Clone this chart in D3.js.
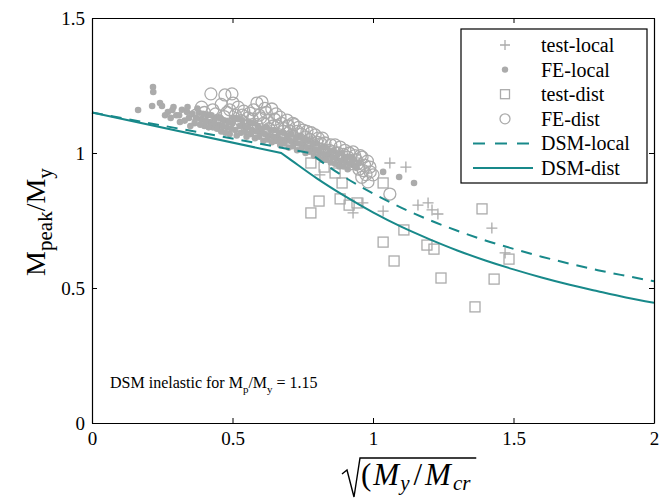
<!DOCTYPE html>
<html>
<head>
<meta charset="utf-8">
<script src="https://cdn.jsdelivr.net/npm/d3@7"></script>
<style>
  body { margin: 0; background: #fff; }
  svg text { font-family: "Liberation Serif", "Times New Roman", "DejaVu Serif", serif; }
</style>
</head>
<body>
<svg id="chart" width="668" height="500"></svg>
<script>
// values: x = sqrt(My/Mcr), y = Mpeak/My
const xTicks = [0, 0.5, 1, 1.5, 2];
const yTicks = [0, 0.5, 1, 1.5];

const testLocal = [
  [0.811, 0.919], [0.929, 0.778], [0.964, 0.815], [1.036, 0.785], [1.060, 0.963],
  [1.117, 0.948], [1.160, 0.807], [1.196, 0.815], [1.210, 0.789], [1.231, 0.774],
  [1.423, 0.722], [1.470, 0.630]
];

const feLocal = [
  [0.164, 1.159], [0.214, 1.174], [0.217, 1.244], [0.218, 1.226], [0.242, 1.185],
  [0.249, 1.174], [0.270, 1.152], [0.286, 1.159], [0.300, 1.140], [0.313, 1.115],
  [0.320, 1.160], [0.338, 1.152], [0.345, 1.130], [0.357, 1.145], [0.365, 1.110],
  [0.380, 1.150], [0.390, 1.125], [0.400, 1.100], [0.410, 1.140], [0.420, 1.115],
  [0.430, 1.095], [0.440, 1.130], [0.450, 1.105], [0.460, 1.080], [0.470, 1.120],
  [0.480, 1.095], [0.490, 1.070], [0.500, 1.110], [0.510, 1.085], [0.520, 1.125],
  [0.530, 1.075], [0.540, 1.100], [0.550, 1.060], [0.560, 1.115], [0.570, 1.085],
  [0.580, 1.055], [0.590, 1.100], [0.600, 1.075], [0.610, 1.045], [0.620, 1.095],
  [0.630, 1.065], [0.640, 1.040], [0.650, 1.085], [0.660, 1.060], [0.670, 1.030],
  [0.680, 1.075], [0.690, 1.050], [0.700, 1.020], [0.710, 1.070], [0.720, 1.040],
  [0.730, 1.010], [0.740, 1.060], [0.750, 1.030], [0.760, 1.000], [0.770, 1.045],
  [0.780, 1.020], [0.790, 0.990], [0.800, 1.035], [0.810, 1.005], [0.820, 0.975],
  [0.830, 1.020], [0.840, 0.995], [0.850, 0.965], [0.860, 1.010], [0.870, 0.980],
  [0.880, 0.950], [0.890, 1.000], [0.900, 0.970], [0.910, 0.940], [0.920, 0.985],
  [0.930, 0.955], [0.950, 0.965], [1.036, 0.930], [1.093, 0.911], [1.146, 0.889],
  [0.260, 1.140], [0.280, 1.130], [0.290, 1.170], [0.310, 1.140], [0.330, 1.120],
  [0.340, 1.170], [0.350, 1.100], [0.370, 1.130], [0.375, 1.165], [0.385, 1.105],
  [0.395, 1.145], [0.405, 1.120], [0.415, 1.095], [0.425, 1.140], [0.435, 1.110],
  [0.445, 1.090], [0.455, 1.130], [0.465, 1.100], [0.475, 1.075], [0.485, 1.115],
  [0.495, 1.090], [0.505, 1.130], [0.515, 1.065], [0.525, 1.100], [0.535, 1.120],
  [0.545, 1.080], [0.555, 1.095], [0.565, 1.070], [0.575, 1.110], [0.585, 1.080],
  [0.595, 1.060], [0.605, 1.090], [0.615, 1.070], [0.625, 1.050], [0.635, 1.085],
  [0.645, 1.060], [0.655, 1.045], [0.665, 1.075], [0.675, 1.050], [0.685, 1.035],
  [0.695, 1.065], [0.705, 1.045], [0.715, 1.025], [0.725, 1.055], [0.735, 1.035],
  [0.745, 1.015], [0.755, 1.050], [0.765, 1.020], [0.775, 1.005], [0.785, 1.035],
  [0.795, 1.010], [0.805, 0.985], [0.815, 1.020], [0.825, 0.995], [0.835, 0.975],
  [0.845, 1.005], [0.855, 0.985], [0.865, 0.960], [0.875, 0.995], [0.885, 0.970],
  [0.895, 0.950], [0.905, 0.985], [0.915, 0.960], [0.925, 0.970], [0.940, 0.945]
];

const testDist = [
  [0.779, 0.778], [0.808, 0.822], [0.883, 0.830], [0.915, 0.807], [0.943, 0.815],
  [0.890, 0.889], [1.036, 0.889], [0.826, 0.948], [1.110, 0.715], [1.036, 0.670],
  [1.075, 0.600], [1.192, 0.659], [1.217, 0.644], [1.242, 0.537], [1.388, 0.793],
  [1.431, 0.533], [1.363, 0.430], [1.484, 0.607], [0.779, 0.963], [0.865, 0.926]
];

const feDist = [
  [0.370, 1.140], [0.390, 1.170], [0.410, 1.130], [0.423, 1.219], [0.430, 1.160],
  [0.450, 1.120], [0.460, 1.180], [0.473, 1.215], [0.480, 1.150], [0.498, 1.219],
  [0.502, 1.185], [0.510, 1.140], [0.520, 1.170], [0.530, 1.120], [0.540, 1.155],
  [0.550, 1.100], [0.562, 1.148], [0.570, 1.125], [0.587, 1.185], [0.595, 1.140],
  [0.605, 1.189], [0.610, 1.110], [0.620, 1.150], [0.630, 1.090], [0.640, 1.163],
  [0.650, 1.125], [0.660, 1.100], [0.669, 1.133], [0.680, 1.080], [0.694, 1.122],
  [0.700, 1.100], [0.710, 1.065], [0.720, 1.105], [0.730, 1.080], [0.740, 1.050],
  [0.751, 1.085], [0.760, 1.060], [0.770, 1.035], [0.780, 1.075], [0.794, 1.067],
  [0.800, 1.040], [0.810, 1.015], [0.820, 1.055], [0.829, 1.037], [0.845, 1.010],
  [0.855, 0.990], [0.865, 1.030], [0.875, 1.000], [0.883, 1.022], [0.890, 0.975],
  [0.900, 1.010], [0.910, 0.985], [0.920, 0.960], [0.929, 1.004], [0.940, 0.975],
  [0.950, 0.940], [0.961, 0.985], [0.970, 0.955], [0.975, 0.920], [0.989, 0.948],
  [1.000, 0.919], [0.982, 0.893], [0.960, 0.910], [1.060, 0.848],
  [0.400, 1.150], [0.440, 1.145], [0.470, 1.135], [0.490, 1.160], [0.515, 1.115],
  [0.535, 1.140], [0.555, 1.130], [0.575, 1.160], [0.585, 1.105], [0.600, 1.130],
  [0.615, 1.165], [0.625, 1.120], [0.645, 1.100], [0.655, 1.145], [0.675, 1.110],
  [0.685, 1.090], [0.705, 1.080], [0.715, 1.110], [0.735, 1.095], [0.745, 1.070],
  [0.765, 1.080], [0.775, 1.050], [0.785, 1.030], [0.805, 1.055], [0.815, 1.035],
  [0.825, 1.010], [0.850, 1.030], [0.860, 1.005], [0.870, 0.980], [0.895, 0.995],
  [0.905, 0.965], [0.915, 1.000], [0.935, 0.990], [0.945, 0.960], [0.955, 0.990],
  [0.965, 0.935], [0.980, 0.970], [0.990, 0.930]
];

// DSM design curves (first point pair is the straight inelastic part)
const dsmLocal = [
  [0, 1.15], [0.776, 1.0], [0.8, 0.981], [0.9, 0.910], [1.0, 0.850], [1.1, 0.798],
  [1.2, 0.752], [1.3, 0.712], [1.4, 0.676], [1.5, 0.645], [1.6, 0.616], [1.7, 0.590],
  [1.8, 0.566], [1.9, 0.545], [2.0, 0.525]
];

const dsmDist = [
  [0, 1.15], [0.673, 1.0], [0.7, 0.980], [0.8, 0.906], [0.9, 0.840], [1.0, 0.780],
  [1.1, 0.727], [1.2, 0.681], [1.3, 0.639], [1.4, 0.602], [1.5, 0.569], [1.6, 0.539],
  [1.7, 0.512], [1.8, 0.488], [1.9, 0.465], [2.0, 0.445]
];

const grey = "#ababab";
const teal = "#18898a";
const serif = "Liberation Serif, Times New Roman, serif";

const margin = {top: 18, right: 14, bottom: 77, left: 92};
const w = 668, h = 500;

const svg = d3.select("#chart");

const xScale = d3.scaleLinear().domain([0, 2]).range([margin.left, w - margin.right]);
const yScale = d3.scaleLinear().domain([0, 1.5]).range([h - margin.bottom, margin.top]);

// markers
const plot = svg.append("g");

plot.selectAll(".fed")
  .data(feDist)
  .enter()
  .append("circle")
  .attr("cx", d => xScale(d[0]))
  .attr("cy", d => yScale(d[1]))
  .attr("r", 6)
  .attr("fill", "none")
  .attr("stroke", grey)
  .attr("stroke-width", 1.3);

plot.selectAll(".fel")
  .data(feLocal)
  .enter()
  .append("circle")
  .attr("cx", d => xScale(d[0]))
  .attr("cy", d => yScale(d[1]))
  .attr("r", 3.3)
  .attr("fill", grey);

plot.selectAll(".td")
  .data(testDist)
  .enter()
  .append("rect")
  .attr("x", d => xScale(d[0]) - 5)
  .attr("y", d => yScale(d[1]) - 5)
  .attr("width", 10)
  .attr("height", 10)
  .attr("fill", "none")
  .attr("stroke", grey)
  .attr("stroke-width", 1.3);

plot.selectAll(".tl")
  .data(testLocal)
  .enter()
  .append("path")
  .attr("d", d => {
    const cx = xScale(d[0]), cy = yScale(d[1]);
    return `M${cx - 5.5},${cy}H${cx + 5.5}M${cx},${cy - 5.5}V${cy + 5.5}`;
  })
  .attr("stroke", grey)
  .attr("stroke-width", 1.3);

// DSM curves: straight part up to the kink, smooth part after it
const lineStraight = d3.line().x(d => xScale(d[0])).y(d => yScale(d[1]));
const lineSmooth = d3.line().x(d => xScale(d[0])).y(d => yScale(d[1])).curve(d3.curveMonotoneX);
const curvePath = pts => lineStraight(pts.slice(0, 2)) + lineSmooth(pts.slice(1)).replace(/^M[^LC]*/, "");

svg.append("path")
  .attr("d", curvePath(dsmLocal))
  .attr("fill", "none")
  .attr("stroke", teal)
  .attr("stroke-width", 2)
  .attr("stroke-dasharray", "11,8");

svg.append("path")
  .attr("d", curvePath(dsmDist))
  .attr("fill", "none")
  .attr("stroke", teal)
  .attr("stroke-width", 2);

// axes (box with inward ticks)
const fmt = d3.format("~g");

const xAxis = d3.axisBottom(xScale).tickValues(xTicks).tickFormat(fmt)
  .tickSizeInner(-5).tickSizeOuter(0).tickPadding(6);
const yAxis = d3.axisLeft(yScale).tickValues(yTicks).tickFormat(fmt)
  .tickSizeInner(-5).tickSizeOuter(0).tickPadding(7);

const gx = svg.append("g")
  .attr("transform", "translate(0," + (h - margin.bottom) + ")")
  .call(xAxis);
const gy = svg.append("g")
  .attr("transform", "translate(" + margin.left + ",0)")
  .call(yAxis);

svg.append("g")
  .attr("transform", "translate(0," + margin.top + ")")
  .call(d3.axisTop(xScale).tickValues(xTicks).tickFormat("").tickSizeInner(-5).tickSizeOuter(0));
svg.append("g")
  .attr("transform", "translate(" + (w - margin.right) + ",0)")
  .call(d3.axisRight(yScale).tickValues(yTicks).tickFormat("").tickSizeInner(-5).tickSizeOuter(0));

svg.selectAll("g").attr("font-family", serif);
svg.selectAll(".domain").attr("stroke", "#000").attr("stroke-width", 1.2);
svg.selectAll(".tick line").attr("stroke", "#000");
svg.selectAll(".tick text")
  .style("font-family", serif)
  .attr("font-size", 19)
  .attr("fill", "#000");
gx.selectAll(".tick text").attr("dy", "0.85em");

// y label
const ylab = svg.append("text")
  .attr("transform", "translate(45,222) rotate(-90)")
  .attr("text-anchor", "middle")
  .attr("font-size", 28)
  .attr("fill", "#000");
ylab.append("tspan").text("M");
ylab.append("tspan").attr("font-size", 21).attr("dy", 7).text("peak");
ylab.append("tspan").attr("dy", -7).text("/M");
ylab.append("tspan").attr("font-size", 21).attr("dy", 7).text("y");

// x label: square root sign + (My/Mcr
const xlab = svg.append("text")
  .attr("x", 361)
  .attr("y", 485)
  .attr("font-size", 31)
  .attr("fill", "#000");
xlab.append("tspan").text("(");
xlab.append("tspan").attr("dx", 2).attr("font-style", "italic").text("M");
xlab.append("tspan").attr("dx", 1).attr("font-style", "italic").attr("font-size", 21).attr("dy", 5).text("y");
xlab.append("tspan").attr("dx", 4).attr("dy", -5).text("/");
xlab.append("tspan").attr("dx", 3).attr("font-style", "italic").text("M");
xlab.append("tspan").attr("dx", 2).attr("font-style", "italic").attr("font-size", 21).attr("dy", 5).text("cr");

const bb = xlab.node().getBBox();
svg.append("path")
  .attr("d", `M342,474 L347,470 L354,497 L${bb.x - 1},${bb.y + 1} H${bb.x + bb.width + 5}`)
  .attr("fill", "none")
  .attr("stroke", "#000")
  .attr("stroke-width", 1.4);

// annotation
const note = svg.append("text")
  .attr("x", 110)
  .attr("y", 388)
  .attr("font-size", 16)
  .attr("fill", "#000");
note.append("tspan").text("DSM inelastic for M");
note.append("tspan").attr("font-size", 11).attr("dy", 5).text("p");
note.append("tspan").attr("dy", -5).text("/M");
note.append("tspan").attr("font-size", 11).attr("dy", 5).text("y");
note.append("tspan").attr("dy", -5).text(" = 1.15");

// legend
const legendItems = ["test-local", "FE-local", "test-dist", "FE-dist", "DSM-local", "DSM-dist"];
const lg = svg.append("g");
lg.append("rect")
  .attr("x", 461).attr("y", 29)
  .attr("width", 186).attr("height", 154)
  .attr("fill", "#fff")
  .attr("stroke", "#000")
  .attr("stroke-width", 1.2);

const rowY = i => 45 + i * 24.6;
const sx = 505;

lg.append("path")
  .attr("d", `M${sx - 5},${rowY(0)}H${sx + 5}M${sx},${rowY(0) - 5}V${rowY(0) + 5}`)
  .attr("stroke", grey).attr("stroke-width", 1.3);
lg.append("circle").attr("cx", sx).attr("cy", rowY(1)).attr("r", 3.2).attr("fill", grey);
lg.append("rect").attr("x", sx - 4.5).attr("y", rowY(2) - 4.5).attr("width", 9).attr("height", 9)
  .attr("fill", "none").attr("stroke", grey).attr("stroke-width", 1.3);
lg.append("circle").attr("cx", sx).attr("cy", rowY(3)).attr("r", 5).attr("fill", "none")
  .attr("stroke", grey).attr("stroke-width", 1.3);
lg.append("line").attr("x1", 473).attr("x2", 533).attr("y1", rowY(4)).attr("y2", rowY(4))
  .attr("stroke", teal).attr("stroke-width", 2).attr("stroke-dasharray", "12,10");
lg.append("line").attr("x1", 473).attr("x2", 533).attr("y1", rowY(5)).attr("y2", rowY(5))
  .attr("stroke", teal).attr("stroke-width", 2);

lg.selectAll(".lt")
  .data(legendItems)
  .enter()
  .append("text")
  .attr("x", 541)
  .attr("y", (d, i) => rowY(i))
  .attr("dy", "0.35em")
  .attr("font-size", 20)
  .attr("fill", "#000")
  .text(d => d);
</script>
</body>
</html>
